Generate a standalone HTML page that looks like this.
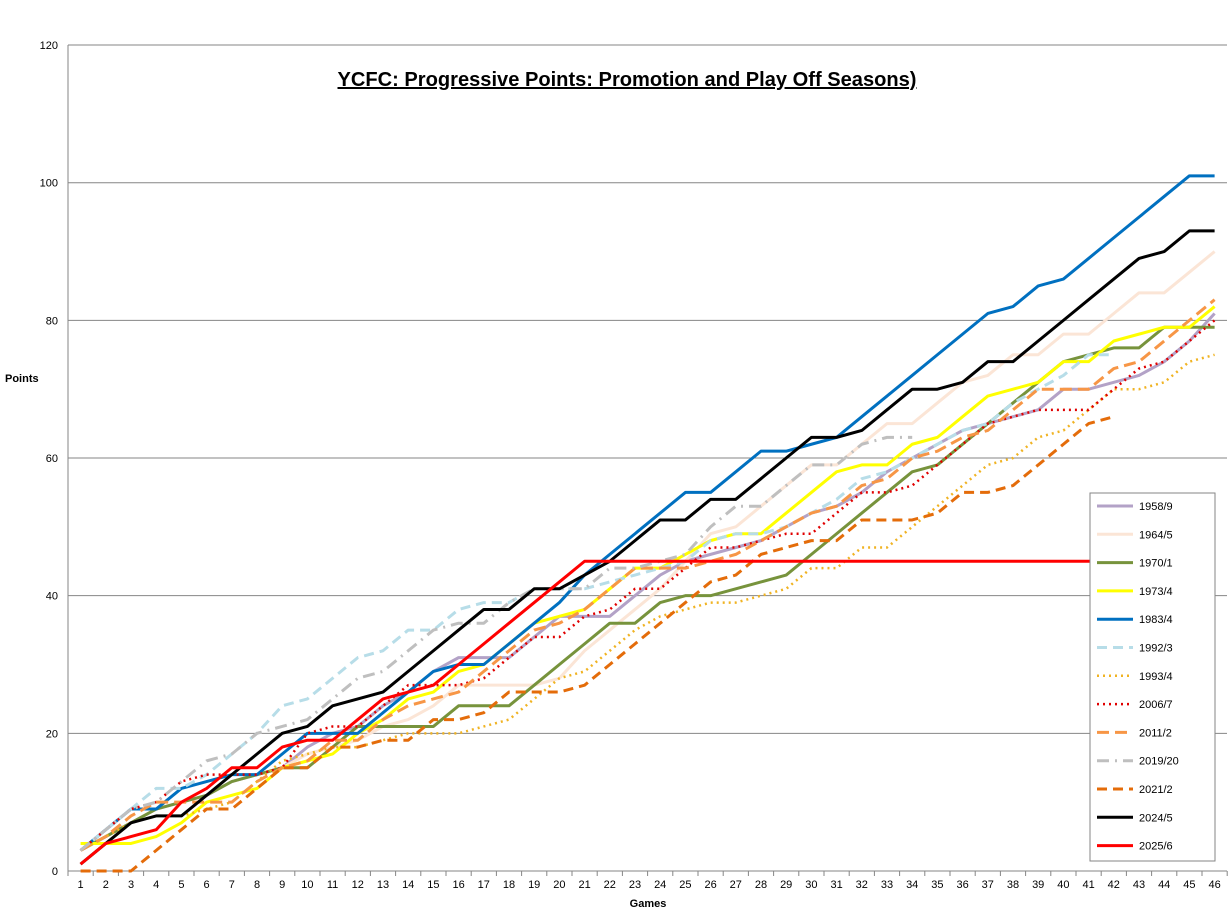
<!DOCTYPE html>
<html><head><meta charset="utf-8"><style>
body{margin:0;background:#fff;}
svg{display:block;font-family:"Liberation Sans",sans-serif;}
</style></head><body>
<svg id="c" width="1231" height="913" xmlns="http://www.w3.org/2000/svg">
<rect x="0" y="0" width="1231" height="913" fill="#fff"/>
<text x="627" y="86" text-anchor="middle" font-size="20" font-weight="bold" text-decoration="underline" textLength="579" lengthAdjust="spacingAndGlyphs">YCFC: Progressive Points: Promotion and Play Off Seasons)</text>
<text x="5" y="382" font-size="11" font-weight="bold">Points</text>
<text x="648" y="907" text-anchor="middle" font-size="11" font-weight="bold">Games</text>
</svg>
<script>
const s=document.getElementById('c'),NS='http://www.w3.org/2000/svg';
function el(t,a,txt){const e=document.createElementNS(NS,t);for(const k in a)e.setAttribute(k,a[k]);if(txt!=null)e.textContent=txt;s.appendChild(e);return e;}
const L=68,R=1227,Y0=871,k=6.883;
const X=g=>80.6+25.2*(g-1),Y=v=>Y0-k*v;
for(let v=0;v<=120;v+=20){el('line',{x1:L,x2:R,y1:Y(v),y2:Y(v),stroke:'#868686','stroke-width':1});
el('text',{x:58,y:Y(v)+4,'text-anchor':'end','font-size':11},v);}
el('line',{x1:L,x2:L,y1:45,y2:Y0,stroke:'#868686'});
for(let g=0;g<=46;g++){const x=L+25.2*g;el('line',{x1:x,x2:x,y1:Y0,y2:Y0+5,stroke:'#868686'});}
for(let g=1;g<=46;g++)el('text',{x:X(g),y:Y0+17,'text-anchor':'middle','font-size':11},g);
const S=[
['1958/9','#b3a2c7',3,'',[3,5,7,9,10,11,13,14,15,18,20,21,24,26,29,31,31,31,34,37,37,37,40,43,45,46,47,48,50,52,53,55,58,60,62,64,65,66,67,70,70,71,72,74,77,81]],
['1964/5','#fbe5d6',3,'',[3,5,7,9,10,11,13,14,15,17,18,19,21,22,24,27,27,27,27,28,32,35,38,41,45,49,50,53,56,59,59,62,65,65,68,71,72,75,75,78,78,81,84,84,87,90]],
['1970/1','#77933c',3,'',[3,5,7,9,10,11,13,14,15,15,18,21,21,21,21,24,24,24,27,30,33,36,36,39,40,40,41,42,43,46,49,52,55,58,59,62,65,68,71,74,75,76,76,79,79,79]],
['1973/4','#ffff00',3,'',[4,4,4,5,7,10,11,12,15,16,17,20,22,25,26,29,30,33,36,37,38,41,44,44,46,48,49,49,52,55,58,59,59,62,63,66,69,70,71,74,74,77,78,79,79,82]],
['1983/4','#0070c0',3,'',[3,6,9,9,12,13,14,14,17,20,20,20,23,26,29,30,30,33,36,39,43,46,49,52,55,55,58,61,61,62,63,66,69,72,75,78,81,82,85,86,89,92,95,98,101,101]],
['1992/3','#b7dde8',3,'10,6',[3,6,9,12,12,14,17,20,24,25,28,31,32,35,35,38,39,39,41,41,41,42,43,44,45,48,49,49,50,52,54,57,58,60,62,64,65,68,70,72,75,75]],
['1993/4','#f0b323',2.5,'2,4',[3,5,7,8,8,9,10,13,16,17,18,18,19,20,20,20,21,22,25,28,29,32,35,37,38,39,39,40,41,44,44,47,47,50,53,56,59,60,63,64,67,70,70,71,74,75]],
['2006/7','#e00000',2.5,'2,4',[3,6,9,10,13,14,14,14,15,20,21,21,24,27,27,27,28,31,34,34,37,38,41,41,44,47,47,48,49,49,52,55,55,56,59,62,65,66,67,67,67,70,73,74,77,80]],
['2011/2','#f79646',3,'12,6',[3,5,8,10,10,10,10,13,15,16,19,19,22,24,25,26,29,32,35,36,38,41,44,44,44,45,46,48,50,52,53,56,57,60,61,63,64,67,70,70,70,73,74,77,80,83]],
['2019/20','#bfbfbf',3,'12,6,2,6',[3,6,9,10,13,16,17,20,21,22,25,28,29,32,35,36,36,39,41,41,41,44,44,45,46,50,53,53,56,59,59,62,63,63]],
['2021/2','#e46c0a',3,'10,6',[0,0,0,3,6,9,9,12,15,15,18,18,19,19,22,22,23,26,26,26,27,30,33,36,39,42,43,46,47,48,48,51,51,51,52,55,55,56,59,62,65,66]],
['2024/5','#000000',3,'',[1,4,7,8,8,11,14,17,20,21,24,25,26,29,32,35,38,38,41,41,43,45,48,51,51,54,54,57,60,63,63,64,67,70,70,71,74,74,77,80,83,86,89,90,93,93]],
['2025/6','#ff0000',3,'',[1,4,5,6,10,12,15,15,18,19,19,22,25,26,27,30,33,36,39,42,45].concat(Array(25).fill(45))]
];
S.forEach(([n,c,w,d,v])=>{el('polyline',{points:v.map((p,i)=>X(i+1)+','+Y(p)).join(' '),fill:'none',stroke:c,'stroke-width':w,'stroke-dasharray':d,'stroke-linejoin':'round'});});
el('rect',{x:1090,y:493,width:125,height:368,fill:'#fff',stroke:'#868686'});
S.forEach(([n,c,w,d],i)=>{const y=506+i*28.3;el('line',{x1:1097,x2:1133,y1:y,y2:y,stroke:c,'stroke-width':w,'stroke-dasharray':d});
el('text',{x:1139,y:y+4,'font-size':11},n);});
</script>
</body></html>
